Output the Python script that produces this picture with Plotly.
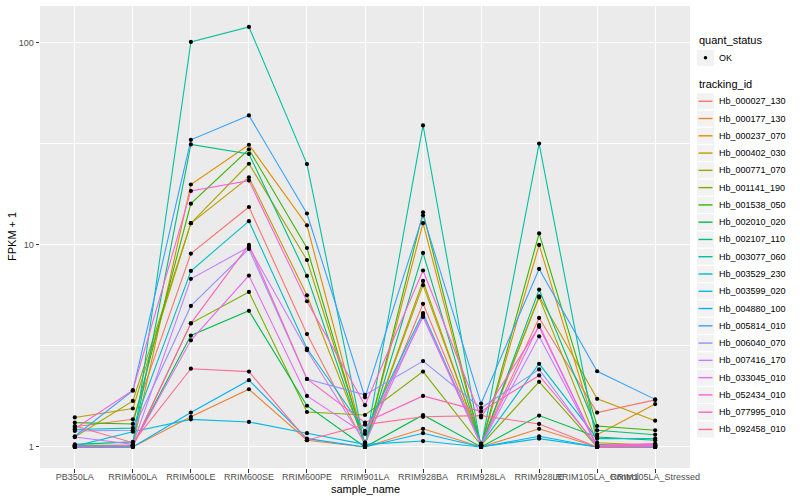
import plotly.graph_objects as go

sample_name = ["PB350LA", "RRIM600LA", "RRIM600LE", "RRIM600SE", "RRIM600PE", "RRIM901LA",
               "RRIM928BA", "RRIM928LA", "RRIM928LE", "RRIM105LA_Control", "RRIM105LA_Stressed"]

# FPKM + 1 values per gene, in sample_name order
Hb_000027_130 = [1.26, 1.37, 9.06, 15.4, 3.62, 1.03, 5.11, 1.04, 4.35, 1.48, 1.71]
Hb_000177_130 = [1.00, 1.00, 1.41, 1.93, 1.08, 1.00, 1.23, 1.00, 1.23, 1.00, 1.00]
Hb_000237_070 = [1.01, 1.02, 19.9, 31.3, 12.5, 1.02, 12.8, 1.01, 10.0, 1.15, 1.63]
Hb_000402_030 = [1.40, 1.55, 12.8, 21.6, 5.63, 1.05, 6.32, 1.03, 5.57, 1.73, 1.35]
Hb_000771_070 = [1.12, 1.69, 12.8, 25.2, 8.42, 1.04, 6.63, 1.02, 5.50, 1.05, 1.02]
Hb_001141_190 = [1.00, 1.01, 4.09, 5.85, 1.49, 1.44, 2.36, 1.02, 2.10, 1.00, 1.00]
Hb_001538_050 = [1.32, 1.30, 16.0, 29.7, 9.65, 1.01, 14.5, 1.02, 11.4, 1.27, 1.21]
Hb_002010_020 = [1.02, 1.02, 3.56, 4.72, 1.60, 1.00, 1.44, 1.00, 1.43, 1.12, 1.08]
Hb_002107_110 = [1.03, 1.06, 31.4, 28.2, 7.02, 1.02, 9.12, 1.01, 6.01, 1.21, 1.15]
Hb_003077_060 = [1.00, 1.00, 101.0, 119.8, 25.1, 1.00, 39.0, 1.00, 31.7, 1.03, 1.00]
Hb_003529_230 = [1.22, 1.24, 7.43, 13.1, 3.07, 1.20, 4.60, 1.03, 2.58, 1.10, 1.10]
Hb_003599_020 = [1.01, 1.19, 1.37, 1.33, 1.17, 1.03, 1.07, 1.00, 1.10, 1.00, 1.00]
Hb_004880_100 = [1.00, 1.00, 1.48, 2.14, 1.10, 1.00, 1.17, 1.00, 1.13, 1.00, 1.00]
Hb_005814_010 = [1.13, 1.90, 33.1, 43.7, 14.3, 1.76, 14.0, 1.64, 7.60, 2.37, 1.72]
Hb_006040_070 = [1.20, 1.21, 4.99, 9.55, 2.17, 1.81, 2.66, 1.56, 2.42, 1.00, 1.00]
Hb_007416_170 = [1.12, 1.03, 6.79, 9.77, 3.01, 1.05, 4.50, 1.02, 3.53, 1.01, 1.01]
Hb_033045_010 = [1.00, 1.02, 3.37, 7.05, 1.79, 1.16, 4.40, 1.03, 4.01, 1.00, 1.02]
Hb_052434_010 = [1.23, 1.91, 18.5, 20.8, 5.26, 1.61, 7.47, 1.40, 3.93, 1.01, 1.03]
Hb_077995_010 = [1.01, 1.01, 4.09, 10.0, 2.17, 1.32, 1.79, 1.50, 2.26, 1.02, 1.04]
Hb_092458_010 = [1.27, 1.05, 2.44, 2.36, 1.08, 1.29, 1.41, 1.43, 1.30, 1.00, 1.01]

tracking_id = ["Hb_000027_130", "Hb_000177_130", "Hb_000237_070", "Hb_000402_030", "Hb_000771_070",
               "Hb_001141_190", "Hb_001538_050", "Hb_002010_020", "Hb_002107_110", "Hb_003077_060",
               "Hb_003529_230", "Hb_003599_020", "Hb_004880_100", "Hb_005814_010", "Hb_006040_070",
               "Hb_007416_170", "Hb_033045_010", "Hb_052434_010", "Hb_077995_010", "Hb_092458_010"]
series = [Hb_000027_130, Hb_000177_130, Hb_000237_070, Hb_000402_030, Hb_000771_070,
          Hb_001141_190, Hb_001538_050, Hb_002010_020, Hb_002107_110, Hb_003077_060,
          Hb_003529_230, Hb_003599_020, Hb_004880_100, Hb_005814_010, Hb_006040_070,
          Hb_007416_170, Hb_033045_010, Hb_052434_010, Hb_077995_010, Hb_092458_010]
colors = ["#F8766D", "#EA8331", "#D89000", "#C09B00", "#A3A500", "#7CAE00", "#39B600", "#00BB4E",
          "#00BF7D", "#00C1A3", "#00BFC4", "#00BAE0", "#00B0F6", "#35A2FF", "#9590FF", "#C77CFF",
          "#E76BF3", "#FA62DB", "#FF62BC", "#FF6C91"]
quant_status = ["OK"]

W, H = 800, 500
L, R, T, B = 40, 110, 5.6, 31.7
PW, PH = W - L - R, H - T - B


def fx(px):
    return (px - L) / PW


def fy(py):
    return (H - B - py) / PH


font = "Liberation Sans, Arial, sans-serif"

fig = go.Figure()
for name, vals, col in zip(tracking_id, series, colors):
    fig.add_trace(go.Scatter(
        x=sample_name, y=vals, mode="lines", name=name,
        line=dict(color=col, width=1.1), showlegend=False,
    ))

all_x = [s for vals in series for s in sample_name]
all_y = [v for vals in series for v in vals]
fig.add_trace(go.Scatter(
    x=all_x, y=all_y, mode="markers", name=quant_status[0],
    marker=dict(color="black", size=4.2, symbol="circle"), showlegend=False,
))

# ggplot-style legend built from the same name/colour lists
shapes, annots = [], []
kx0, kx1 = 697, 714
annots.append(dict(text="quant_status", x=fx(696.5), y=fy(40), xref="paper", yref="paper",
                   xanchor="left", yanchor="middle", showarrow=False,
                   font=dict(family=font, size=11, color="black")))
shapes.append(dict(type="rect", xref="paper", yref="paper", x0=fx(kx0), x1=fx(kx1),
                   y0=fy(49.5), y1=fy(65.5), fillcolor="#F2F2F2", line=dict(width=0), layer="above"))
shapes.append(dict(type="circle", xref="paper", yref="paper", x0=fx(703.7), x1=fx(707.3),
                   y0=fy(55.7), y1=fy(59.3), fillcolor="black", line=dict(width=0), layer="above"))
annots.append(dict(text=quant_status[0], x=fx(717), y=fy(57.5), xref="paper", yref="paper",
                   xanchor="left", yanchor="middle", showarrow=False,
                   font=dict(family=font, size=9, color="black")))
annots.append(dict(text="tracking_id", x=fx(696.5), y=fy(83.5), xref="paper", yref="paper",
                   xanchor="left", yanchor="middle", showarrow=False,
                   font=dict(family=font, size=11, color="black")))
step = 17.3
for i, (name, col) in enumerate(zip(tracking_id, colors)):
    cy = 101 + i * step
    shapes.append(dict(type="rect", xref="paper", yref="paper", x0=fx(kx0), x1=fx(kx1),
                       y0=fy(cy - 8), y1=fy(cy + 8), fillcolor="#F2F2F2", line=dict(width=0), layer="above"))
    shapes.append(dict(type="line", xref="paper", yref="paper", x0=fx(698.5), x1=fx(712.5),
                       y0=fy(cy), y1=fy(cy), line=dict(color=col, width=1.4), layer="above"))
    annots.append(dict(text=name, x=fx(717), y=fy(cy), xref="paper", yref="paper",
                       xanchor="left", yanchor="middle", showarrow=False,
                       font=dict(family=font, size=9, color="black")))

# axis titles placed like ggplot
annots.append(dict(text="sample_name", x=0.5, y=fy(489), xref="paper", yref="paper",
                   xanchor="center", yanchor="middle", showarrow=False,
                   font=dict(family=font, size=11, color="black")))
annots.append(dict(text="FPKM + 1", x=fx(12), y=0.5, xref="paper", yref="paper", textangle=-90,
                   xanchor="center", yanchor="middle", showarrow=False,
                   font=dict(family=font, size=11, color="black")))

fig.update_layout(
    width=W, height=H,
    margin=dict(l=L, r=R, t=T, b=B, autoexpand=False),
    paper_bgcolor="white", plot_bgcolor="#EBEBEB",
    font=dict(family=font, size=9, color="#4D4D4D"),
    showlegend=False,
    shapes=shapes, annotations=annots,
    xaxis=dict(
        type="category", range=[-0.6, 10.6], automargin=False,
        tickmode="array", tickvals=sample_name, ticktext=sample_name, tickangle=0,
        showgrid=True, gridcolor="white", gridwidth=1.1,
        ticks="outside", ticklen=3.5, tickcolor="#333333", tickwidth=1,
        ticklabelstandoff=-3,
        tickfont=dict(family=font, size=9, color="#4D4D4D"),
        zeroline=False, showline=False,
    ),
    yaxis=dict(
        type="log", range=[-0.104, 2.182], automargin=False,
        tickvals=[1, 10, 100], ticktext=["1", "10", "100"],
        showgrid=True, gridcolor="white", gridwidth=1.1,
        minor=dict(tickvals=[10 ** 0.5, 10 ** 1.5], showgrid=True, gridcolor="white", gridwidth=0.5, ticks=""),
        ticks="outside", ticklen=3.5, tickcolor="#333333", tickwidth=1,
        tickfont=dict(family=font, size=9, color="#4D4D4D"),
        zeroline=False, showline=False,
    ),
)

fig.write_html("out.html", config={"displayModeBar": False},
               post_script="document.body.style.margin='0';document.body.style.overflow='hidden';")
